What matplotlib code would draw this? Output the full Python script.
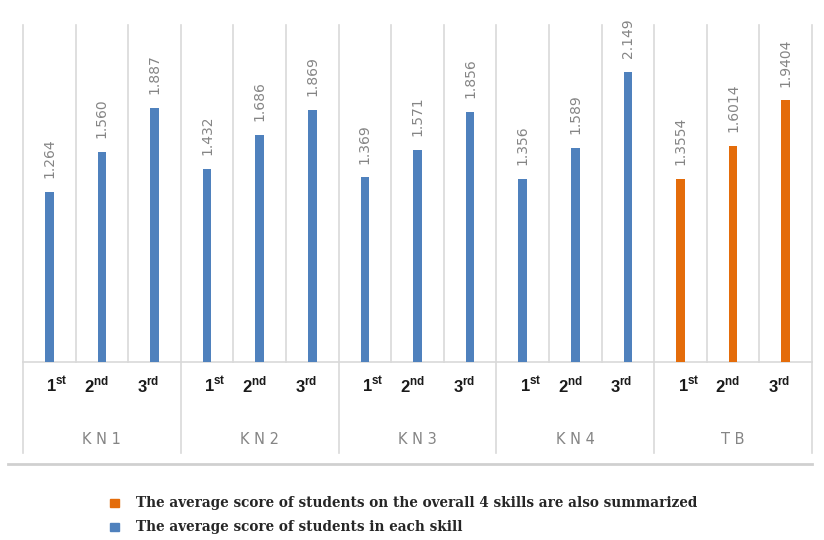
import matplotlib
matplotlib.use('Agg')
import matplotlib.pyplot as plt
from matplotlib.patches import Rectangle
from matplotlib.lines import Line2D

# data
groups = ['KN1', 'KN2', 'KN3', 'KN4', 'TB']
ordinals = [('1', 'st'), ('2', 'nd'), ('3', 'rd')]
kn1 = [1.264, 1.560, 1.887]
kn2 = [1.432, 1.686, 1.869]
kn3 = [1.369, 1.571, 1.856]
kn4 = [1.356, 1.589, 2.149]
tb = [1.3554, 1.6014, 1.9404]
value_labels = ['1.264', '1.560', '1.887',
                '1.432', '1.686', '1.869',
                '1.369', '1.571', '1.856',
                '1.356', '1.589', '2.149',
                '1.3554', '1.6014', '1.9404']
legend_labels = ['The average score of students on the overall 4 skills are also summarized',
                 'The average score of students in each skill']

BLUE = '#4f81bd'
ORANGE = '#e46c0a'
GRID = '#d9d9d9'
LABEL_GREY = '#858585'

plt.rcParams['mathtext.fontset'] = 'custom'
plt.rcParams['mathtext.rm'] = 'Liberation Sans'
plt.rcParams['mathtext.bf'] = 'Liberation Sans:bold'

W, H = 824, 540
fig = plt.figure(figsize=(W / 100, H / 100), dpi=100)
ax = fig.add_axes([23 / W, 1 - 362 / H, (812 - 23) / W, (362 - 25) / H])

all_values = kn1 + kn2 + kn3 + kn4 + tb
n = len(all_values)
colors = [BLUE] * 12 + [ORANGE] * 3
xs = [i + 0.5 for i in range(n)]

ax.bar(xs, all_values, width=0.16, color=colors, zorder=3)
for x, v, lab in zip(xs, all_values, value_labels):
    ax.annotate(lab, (x, v), xytext=(0, 10), textcoords='offset points',
                rotation=90, ha='center', va='bottom', fontsize=10,
                color=LABEL_GREY)

ax.set_xlim(0, n)
ax.set_ylim(0, 2.5)
for s in ax.spines.values():
    s.set_visible(False)
ax.set_xticks([])
ax.set_yticks([])

# vertical slot lines
for i in range(n + 1):
    ax.plot([i, i], [0, 1], transform=ax.get_xaxis_transform(), color=GRID,
            lw=1.2, zorder=1, clip_on=False)
# baseline
ax.plot([0, n], [0, 0], color=GRID, lw=1.2, zorder=2, clip_on=False)

# group separators extend below the axis
axis_h = 362 - 25
low = -(453 - 362) / axis_h
for g in range(len(groups) + 1):
    ax.plot([3 * g, 3 * g], [low, 0], transform=ax.get_xaxis_transform(),
            color=GRID, lw=1.2, clip_on=False)

# ordinal labels
offs = [0.15, -0.1, -0.12]
y_ord = -(386 - 362) / axis_h
for i in range(n):
    num, suf = ordinals[i % 3]
    ax.text(xs[i] + offs[i % 3], y_ord, r'$\mathbf{%s}^{\mathbf{%s}}$' % (num, suf),
            transform=ax.get_xaxis_transform(), ha='center', va='center',
            fontsize=12, color='#1a1a1a')

# group labels
y_grp = -(440 - 362) / axis_h
for g, name in enumerate(groups):
    ax.text(3 * g + 1.5, y_grp, ' '.join(name), transform=ax.get_xaxis_transform(),
            ha='center', va='center', fontsize=10.5, color=LABEL_GREY)

# bottom rule
fig.add_artist(Line2D([8 / W, 812 / W], [1 - 464 / H, 1 - 464 / H],
                      color='#d0d0d0', lw=2))

# legend
for y, c, lab in zip([503, 527], [ORANGE, BLUE], legend_labels):
    fig.add_artist(Rectangle((110 / W, 1 - (y + 4) / H), 9 / W, 8 / H,
                             color=c, transform=fig.transFigure))
    fig.text(136 / W, 1 - y / H, lab, ha='left', va='center', fontsize=9.8,
             family='DejaVu Serif', fontweight='bold', color='#262626')

fig.savefig('out.png', dpi=100)
